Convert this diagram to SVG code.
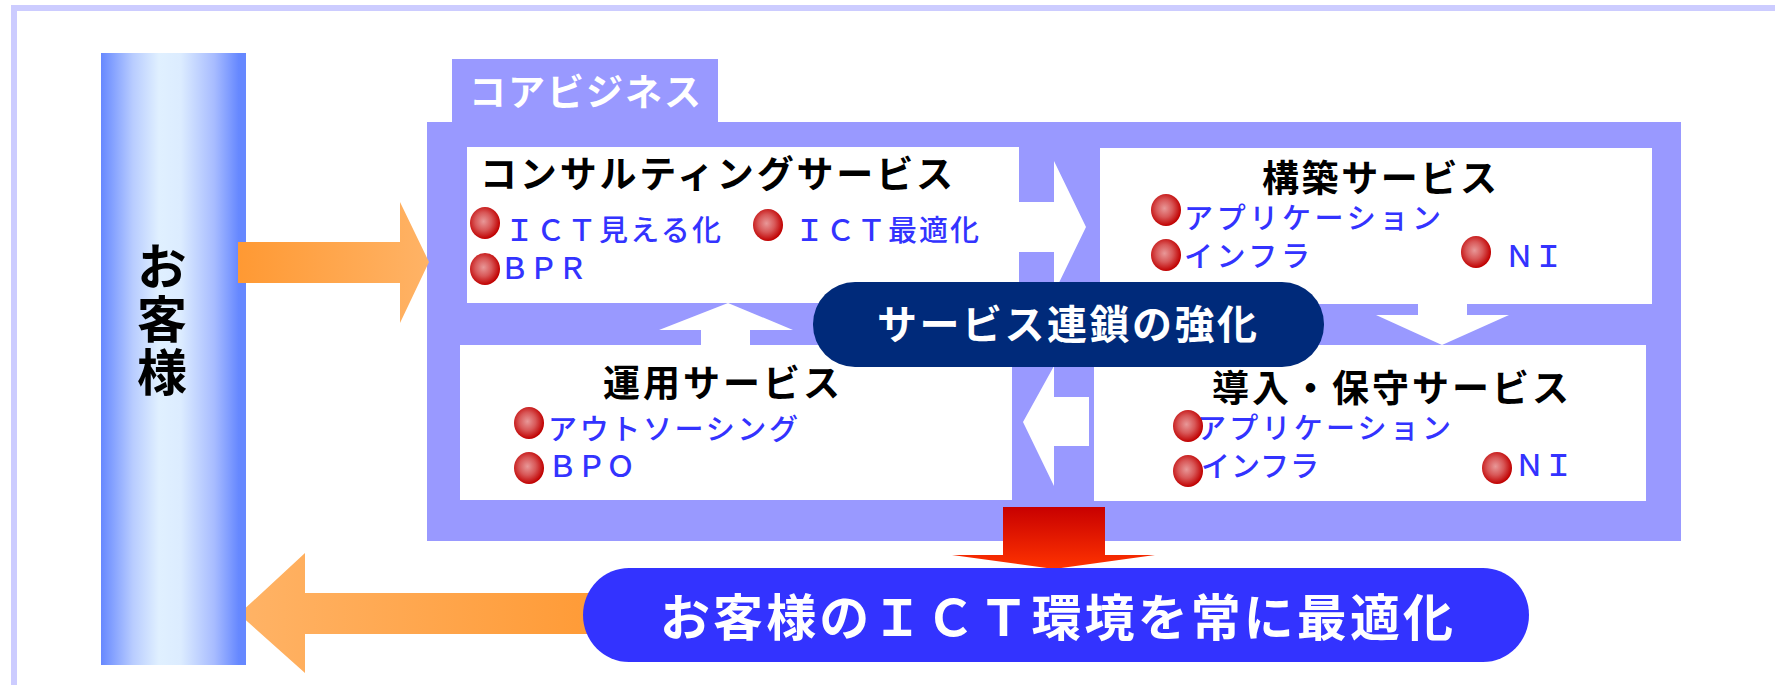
<svg xmlns="http://www.w3.org/2000/svg" width="1775" height="685" viewBox="0 0 1775 685">
<defs>
<style>
.jp{font-family:"Noto Sans CJK JP","Noto Sans",sans-serif}
.title{font-size:37px;font-weight:bold;fill:#000}
.item{font-size:29px;font-weight:500;fill:#3333ff}
.lav{fill:#9999ff}
.box{fill:#ffffff}
.warr{fill:#ffffff}
</style>
<linearGradient id="barG" x1="0" y1="0" x2="1" y2="0">
<stop offset="0" stop-color="#6688ff"/>
<stop offset="0.22" stop-color="#b8ccff"/>
<stop offset="0.4" stop-color="#e0f0ff"/>
<stop offset="0.55" stop-color="#dcecff"/>
<stop offset="0.78" stop-color="#a8bcff"/>
<stop offset="0.95" stop-color="#6688ff"/>
</linearGradient>
<linearGradient id="orR" x1="0" y1="0" x2="1" y2="0">
<stop offset="0" stop-color="#ff9933"/>
<stop offset="1" stop-color="#ffb366"/>
</linearGradient>
<linearGradient id="orL" x1="0" y1="0" x2="1" y2="0">
<stop offset="0" stop-color="#ffb366"/>
<stop offset="1" stop-color="#ff9933"/>
</linearGradient>
<linearGradient id="redG" x1="0" y1="0" x2="0" y2="1">
<stop offset="0" stop-color="#c80000"/>
<stop offset="1" stop-color="#ff3300"/>
</linearGradient>
<radialGradient id="ball" cx="0.45" cy="0.45" r="0.55">
<stop offset="0" stop-color="#e89898"/>
<stop offset="0.5" stop-color="#d85858"/>
<stop offset="1" stop-color="#c00000"/>
</radialGradient>
<symbol id="b" overflow="visible"><ellipse cx="0" cy="0" rx="15" ry="16" fill="url(#ball)"/></symbol>
</defs>

<g id="frame">
<line x1="14" y1="8" x2="1775" y2="8" stroke="#ccccff" stroke-width="6"/>
<line x1="14" y1="5" x2="14" y2="685" stroke="#ccccff" stroke-width="6"/>
</g>

<g id="core-business">
<rect class="lav" x="452" y="59" width="266" height="64"/>
<rect class="lav" x="427" y="122" width="1254" height="419"/>
<text class="jp" x="469" y="106" font-size="37" font-weight="bold" fill="#ffffff" textLength="232">コアビジネス</text>
</g>

<g id="consulting">
<rect class="box" x="467" y="147" width="552" height="156"/>
<text class="jp title" x="480" y="188" textLength="473">コンサルティングサービス</text>
<use href="#b" x="485" y="223"/>
<text class="jp item" x="505" y="241" textLength="216">ＩＣＴ見える化</text>
<use href="#b" x="768" y="225"/>
<text class="jp item" x="795" y="241" textLength="184">ＩＣＴ最適化</text>
<use href="#b" x="485" y="269"/>
<text class="jp item" x="500" y="279">ＢＰＲ</text>
</g>

<g id="construction">
<rect class="box" x="1100" y="148" width="552" height="156"/>
<text class="jp title" x="1262" y="192" textLength="235">構築サービス</text>
<use href="#b" x="1166" y="210"/>
<text class="jp item" x="1184" y="229" textLength="257">アプリケーション</text>
<use href="#b" x="1166" y="255"/>
<text class="jp item" x="1184" y="267" textLength="126">インフラ</text>
<use href="#b" x="1476" y="252"/>
<text class="jp item" x="1505" y="267">ＮＩ</text>
</g>

<g id="operation">
<rect class="box" x="460" y="345" width="552" height="155"/>
<text class="jp title" x="603" y="397" textLength="237">運用サービス</text>
<use href="#b" x="529" y="423"/>
<text class="jp item" x="548" y="440" textLength="250">アウトソーシング</text>
<use href="#b" x="529" y="468"/>
<text class="jp item" x="548" y="477">ＢＰＯ</text>
</g>

<g id="installation">
<rect class="box" x="1094" y="345" width="552" height="156"/>
<text class="jp title" x="1212" y="402" textLength="357">導入・保守サービス</text>
<text class="jp item" x="1197" y="439" textLength="254">アプリケーション</text>
<use href="#b" x="1188" y="426"/>
<text class="jp item" x="1201" y="477" textLength="118">インフラ</text>
<use href="#b" x="1188" y="471"/>
<use href="#b" x="1497" y="468"/>
<text class="jp item" x="1515" y="476">ＮＩ</text>
</g>

<g id="connectors">
<polygon class="warr" points="1019,202 1054,202 1054,161 1086,227 1054,293 1054,252 1019,252"/>
<polygon class="warr" points="1418,304 1467,304 1467,315 1509,315 1442,345 1376,315 1418,315"/>
<polygon class="warr" points="1089,397 1054,397 1054,366 1023,422 1054,486 1054,446 1089,446"/>
<polygon class="warr" points="701,345 701,330 659,330 728,303 793,330 750,330 750,345"/>
<polygon fill="url(#redG)" points="1003,507 1105,507 1105,555 1155,555 1054,569 952,555 1003,555"/>
<polygon fill="url(#orL)" points="239,614 305,553 305,593 620,593 620,634 305,634 305,673"/>
</g>

<g id="chain">
<rect x="813" y="282" width="511" height="85" rx="42" ry="42" fill="#002a7a"/>
<text class="jp" x="877" y="339" font-size="40" font-weight="bold" fill="#ffffff" textLength="380">サービス連鎖の強化</text>
</g>

<g id="result">
<rect x="583" y="568" width="946" height="94" rx="46" ry="47" fill="#3333ff"/>
<text class="jp" x="660" y="636" font-size="50" font-weight="bold" fill="#ffffff" textLength="793">お客様のＩＣＴ環境を常に最適化</text>
</g>

<g id="customer">
<rect x="101" y="53" width="145" height="612" fill="url(#barG)"/>
<text class="jp" x="162" y="241" font-size="50" font-weight="bold" fill="#000" writing-mode="vertical-rl" letter-spacing="3">お客様</text>
</g>

<g id="customer-arrow">
<polygon fill="url(#orR)" points="238,242 400,242 400,202 429,262 400,323 400,283 238,283"/>
</g>
</svg>
